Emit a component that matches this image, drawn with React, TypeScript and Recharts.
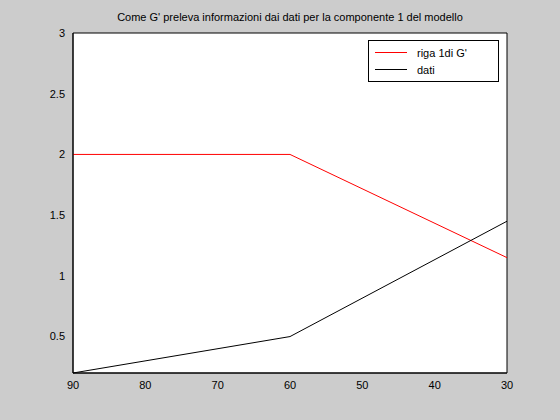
import { LineChart, Line, XAxis, YAxis, CartesianGrid, ReferenceArea } from "recharts";

const xValues = [90, 60, 30];
const rigaValues = [2, 2, 1.15];
const datiValues = [0.2, 0.5, 1.45];
const xTicks = [90, 80, 70, 60, 50, 40, 30];
const yTicks = [0.5, 1, 1.5, 2, 2.5, 3];

const data = xValues.map((x, i) => ({ x, riga: rigaValues[i], dati: datiValues[i] }));

const font = "'Liberation Sans', Arial, sans-serif";

function LegendBox() {
  const items = [
    { label: "riga 1di G'", color: "#ff0000" },
    { label: "dati", color: "#000000" },
  ];
  return (
    <div style={{ position: "absolute", top: 40, left: 368, boxSizing: "border-box", width: 131, height: 42, background: "#fff", border: "1px solid #000", padding: "3px 6px", fontFamily: font, fontSize: 11 }}>
      {items.map((it) => (
        <div key={it.label} style={{ display: "flex", alignItems: "center", height: 17 }}>
          <span style={{ display: "inline-block", width: 32, height: 1, background: it.color, marginRight: 10 }} />
          <span>{it.label}</span>
        </div>
      ))}
    </div>
  );
}

export default function App() {
  return (
    <div style={{ position: "fixed", left: 0, top: 0, width: 560, height: 420, background: "#cccccc" }}>
      <div style={{ position: "absolute", top: 11, left: 73, width: 434, textAlign: "center", fontFamily: font, fontSize: 11 }}>
        Come G' preleva informazioni dai dati per la componente 1 del modello
      </div>
      <LineChart width={560} height={420} data={data} margin={{ top: 33, right: 53, bottom: 0, left: 0 }}>
        <CartesianGrid fill="#ffffff" horizontal={false} vertical={false} />
        <XAxis
          dataKey="x"
          type="number"
          domain={[30, 90]}
          reversed
          ticks={xTicks}
          height={47}
          tickSize={0}
          tickMargin={8}
          axisLine={{ stroke: "#000" }}
          tick={{ fill: "#000", fontSize: 11, fontFamily: font }}
        />
        <YAxis
          type="number"
          domain={[0.2, 3]}
          ticks={yTicks}
          width={73}
          tickSize={0}
          tickMargin={8}
          axisLine={{ stroke: "#000" }}
          tick={{ fill: "#000", fontSize: 11, fontFamily: font }}
        />
        <ReferenceArea x1={90} x2={30} y1={0.2} y2={3} fill="none" stroke="#000" ifOverflow="visible" />
        <Line dataKey="riga" stroke="#ff0000" strokeWidth={1} dot={false} isAnimationActive={false} />
        <Line dataKey="dati" stroke="#000000" strokeWidth={1} dot={false} isAnimationActive={false} />
      </LineChart>
      <LegendBox />
    </div>
  );
}
